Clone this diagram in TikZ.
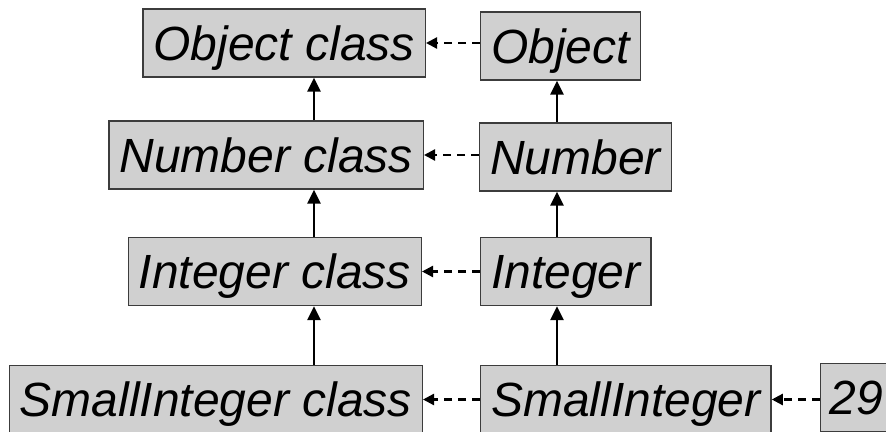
\documentclass[tikz,border=0pt]{standalone}
\usepackage{fontspec}
\setsansfont{Liberation Sans}
\usetikzlibrary{arrows.meta, positioning}
\definecolor{boxgray}{RGB}{208,208,208}
\definecolor{edgegray}{RGB}{60,60,60}

\begin{document}
\begin{tikzpicture}[x=1pt, y=-1pt, >=Triangle, node distance=56pt,
    font=\sffamily\itshape\fontsize{48}{56}\selectfont,
    cbox/.style={draw=edgegray, line width=1.3pt, fill=boxgray, rectangle,
      minimum height=68pt, inner xsep=10.5pt, inner ysep=0pt,
      text height=34.4pt, text depth=0pt},
    up/.style={->, line width=2.8pt, >={Triangle[length=14pt,width=13pt]}},
    ref/.style={->, dash pattern=on 8pt off 6pt, line width=2.3pt,
      >={Triangle[length=11pt,width=11pt]}}]
  \clip (0,0) rectangle (886,431);
  % class side (left) and instance side (right)
  \node[cbox, anchor=east] (objcls) at (426,43) {Object class};
  \node[cbox, right=54pt of objcls, yshift=-3pt] (obj) {Object};
  \node[cbox, anchor=east] (numcls) at (424,155) {Number class};
  \node[cbox, right=55pt of numcls, yshift=-2pt] (num) {Number};
  \node[cbox, anchor=east] (intcls) at (422,271.5) {Integer class};
  \node[cbox, right=58pt of intcls] (int) {Integer};
  \node[cbox, anchor=east] (sintcls) at (423,399.5) {SmallInteger class};
  \node[cbox, right=57pt of sintcls] (sint) {SmallInteger};
  \node[cbox, right=48pt of sint, yshift=2pt, inner xsep=9pt] (n29) {29};
  \coordinate (lcol) at (314,0);
  \coordinate (rcol) at (557,0);
  % superclass links
  \draw[up] (numcls.north -| lcol) -- (objcls.south -| lcol);
  \draw[up] (intcls.north -| lcol) -- (numcls.south -| lcol);
  \draw[up] (sintcls.north -| lcol) -- (intcls.south -| lcol);
  \draw[up] (num.north -| rcol) -- (obj.south -| rcol);
  \draw[up] (int.north -| rcol) -- (num.south -| rcol);
  \draw[up] (sint.north -| rcol) -- (int.south -| rcol);
  % instance-of links
  \draw[ref] (obj.west |- objcls) -- (objcls);
  \draw[ref] (num.west |- numcls) -- (numcls);
  \draw[ref] (int) -- (intcls);
  \draw[ref] (sint) -- (sintcls);
  \draw[ref] (n29.west |- sint) -- (sint);
\end{tikzpicture}
\end{document}
